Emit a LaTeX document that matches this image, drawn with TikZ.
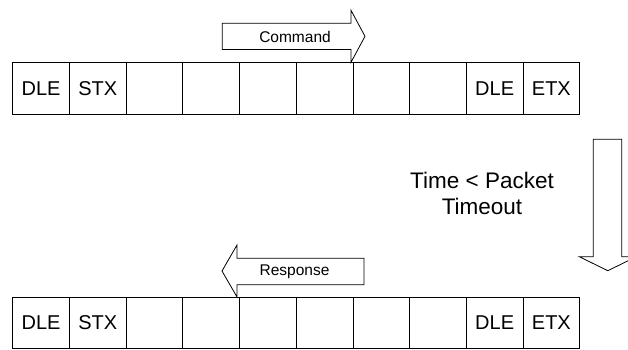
\documentclass[tikz,border=0pt]{standalone}
\usepackage{fontspec}
\setmainfont{Liberation Sans}
\begin{document}
\begin{tikzpicture}[x=1pt,y=-1pt,
  cell/.style={draw=black,line width=0.8pt,minimum width=56.7pt,minimum height=51.3pt,inner sep=0pt,outer sep=0pt,font=\fontsize{20}{24}\selectfont},
  blockarrow/.style={draw=black,line width=0.8pt,fill=white,line join=miter},
  lbl/.style={inner sep=0pt,font=\fontsize{15.5}{18}\selectfont}]
\useasboundingbox (0,0) rectangle (628,350);
% top row
\foreach \i/\t in {0/DLE,1/STX,2/,3/,4/,5/,6/,7/,8/DLE,9/ETX}{
  \node[cell] (t\i) at ({41.05+56.7*\i},88.4) {\t};
}
% bottom row
\foreach \i/\t in {0/DLE,1/STX,2/,3/,4/,5/,6/,7/,8/DLE,9/ETX}{
  \node[cell] (b\i) at ({41.05+56.7*\i},322.6) {\t};
}
% Command arrow
\draw[blockarrow] (222.3,23.2) -- (351,23.2) -- (351,10.3) -- (365,36.3) -- (351,62.3) -- (351,49.6) -- (222.3,49.6) -- cycle;
\node[lbl] (cmd) at (295,36.5) {Command};
% Response arrow
\draw[blockarrow] (364,258.2) -- (237,258.2) -- (237,245) -- (222,271) -- (237,297) -- (237,284.8) -- (364,284.8) -- cycle;
\node[lbl] (resp) at (294.5,271.3) {Response};
% Down arrow
\draw[blockarrow] (593.3,139.3) -- (621.7,139.3) -- (621.7,256.7) -- (636.3,256.7) -- (607.8,270.7) -- (579.3,256.7) -- (593.3,256.7) -- cycle;
\node[inner sep=0pt,align=center,font=\fontsize{22.5}{26}\selectfont] (time) at (482,193) {Time < Packet\\Timeout};
\end{tikzpicture}
\end{document}
